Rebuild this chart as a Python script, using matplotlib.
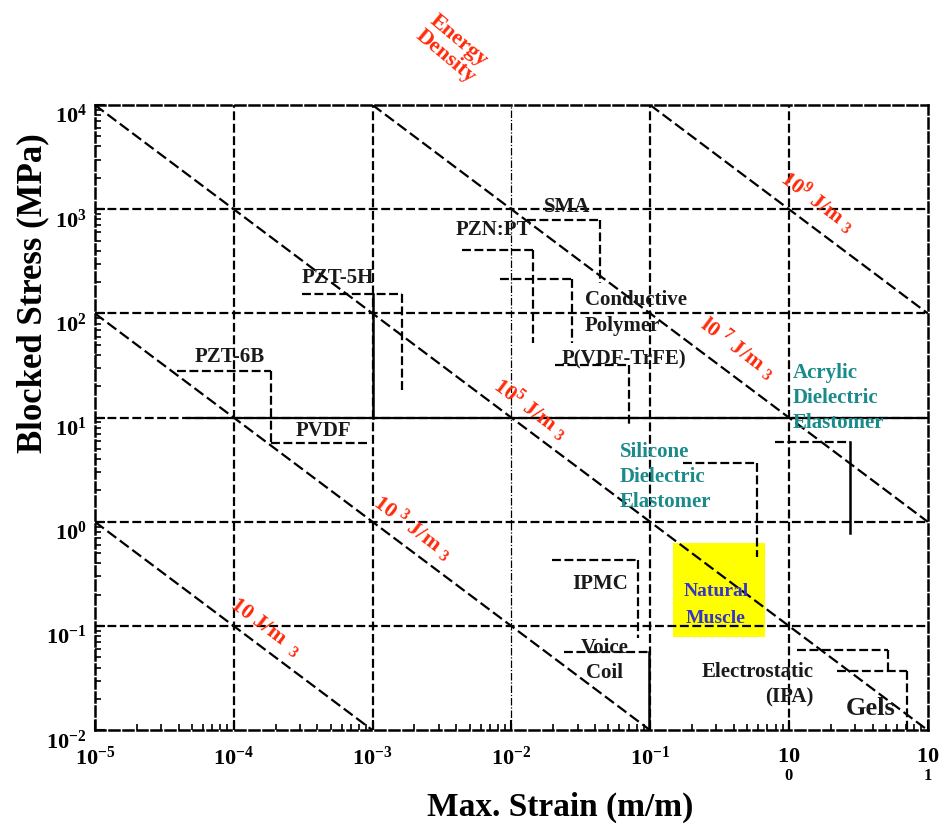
import numpy as np
import matplotlib
matplotlib.use('Agg')
import matplotlib.pyplot as plt

plt.rcParams['font.family'] = ['Liberation Serif', 'DejaVu Serif']
plt.rcParams['font.weight'] = 'bold'
plt.rcParams['mathtext.fontset'] = 'custom'
plt.rcParams['mathtext.rm'] = 'Liberation Serif:bold'
plt.rcParams['mathtext.it'] = 'Liberation Serif:bold:italic'
plt.rcParams['mathtext.bf'] = 'Liberation Serif:bold'
plt.rcParams['axes.unicode_minus'] = False

# energy density lines (J/m^3) and their labels
energy_density = [1e1, 1e3, 1e5, 1e7, 1e9]
energy_labels = [r'10 J/m  $_3$', r'10 $^3$ J/m $_3$', r'10$^5$ J/m $_3$',
                 r'l0 $^7$ J/m $_3$', r'10$^9$ J/m $_3$']
energy_label_x = [1.7e-4, 1.95e-3, 0.0138, 0.43, 1.62]
energy_label_y = [0.098, 0.89, 12.1, 46.6, 1170]

# actuator brackets: horizontal at stress_hi from strain_lo to strain_hi, then down to stress_lo
materials = ['PZT-6B', 'PVDF', 'PZT-5H', 'PZN:PT', 'SMA', 'Conductive Polymer',
             'P(VDF-TrFE)', 'Silicone', 'Acrylic', 'IPMC', 'Voice Coil',
             'Electrostatic (IPA)', 'Gels']
strain_lo = [3.9e-5, 1.85e-4, 3.1e-4, 4.4e-3, 0.0129, 8.3e-3, 0.0206, 0.172, 0.79,
             0.0196, 0.024, 1.14, 2.22]
strain_hi = [1.85e-4, 9.6e-4, 1.63e-3, 0.0143, 0.0435, 0.0273, 0.0703, 0.589, 2.75,
             0.0817, 0.098, 5.2, 7.08]
stress_hi = [28, 5.7, 153, 405, 787, 214, 32, 3.66, 5.84, 0.43, 0.056, 0.059, 0.037]
stress_lo = [5.7, 5.7, 18.4, 52, 196, 52, 8.5, 0.46, 0.78, 0.077, 0.01, 0.038, 0.01]
solid_drop = ['Acrylic', 'Voice Coil']

# extra solid segments
pzt_solid_strain = [1e-3, 1e-3]
pzt_solid_stress = [153, 10]
line10_strain = [4.6e-5, 10]
line10_stress = [10, 10]

# natural muscle box
muscle_strain = [0.146, 0.67]
muscle_stress = [0.078, 0.63]

# text labels
black_labels = ['PZT-6B', 'PVDF', 'PZT-5H', 'PZN:PT', 'SMA', 'P(VDF-TrFE)', 'IPMC',
                'Voice\nCoil']
black_x = [9.4e-5, 4.4e-4, 5.6e-4, 7.4e-3, 0.0251, 0.0647, 0.0434, 0.0472]
black_y = [38, 7.4, 219, 631, 1050, 36.5, 0.253, 0.047]

x_decades = [1e-5, 1e-4, 1e-3, 1e-2, 1e-1, 1e0, 1e1]
y_decades = [1e-2, 1e-1, 1e0, 1e1, 1e2, 1e3, 1e4]
x_ticklabels = [r'$10^{-5}$', r'$10^{-4}$', r'$10^{-3}$', r'$10^{-2}$', r'$10^{-1}$',
                r'$10$', r'$10$']
y_ticklabels = [r'$10^{-2}$', r'$10^{-1}$', r'$10^{0}$', r'$10^{1}$', r'$10^{2}$',
                r'$10^{3}$', r'$10^{4}$']

red = '#ff2a0a'
teal = '#1b8a8a'
dash = (0, (4, 1.6))

fig = plt.figure(figsize=(9.4, 8.27), dpi=100)
ax = fig.add_axes([0.101, 0.117, 0.886, 0.756])
ax.set_xscale('log')
ax.set_yscale('log')
ax.set_xlim(1e-5, 10)
ax.set_ylim(1e-2, 1e4)

# grid
for xv in x_decades[1:-1]:
    if xv == 1e-2:
        ax.axvline(xv, color='k', lw=0.9, ls=(0, (6, 1.5, 1, 1.5)), zorder=1)
    else:
        ax.axvline(xv, color='k', lw=1.6, ls=dash, zorder=1)
for yv in y_decades[1:-1]:
    ax.axhline(yv, color='k', lw=1.6, ls=dash, zorder=1)

for s in ax.spines.values():
    s.set_linestyle(dash)
    s.set_linewidth(1.8)

# natural muscle box
ax.fill([muscle_strain[0], muscle_strain[1], muscle_strain[1], muscle_strain[0]],
        [muscle_stress[0], muscle_stress[0], muscle_stress[1], muscle_stress[1]],
        color='#ffff00', zorder=0.5, lw=0)

# energy density lines
for ed in energy_density:
    e = ed / 1e6
    xs = np.array([max(1e-5, e / 1e4), min(10, e / 1e-2)])
    ax.plot(xs, e / xs, color='k', lw=1.6, ls=(0, (5, 2)), zorder=2)
for lab, lx, ly in zip(energy_labels, energy_label_x, energy_label_y):
    ax.text(lx, ly, lab, color=red, fontsize=16, fontweight='bold', rotation=-37,
            rotation_mode='anchor', ha='center', va='center', zorder=4)

# actuator brackets
for name, x0, x1, y0, y1 in zip(materials, strain_lo, strain_hi, stress_hi, stress_lo):
    ax.plot([x0, x1], [y0, y0], color='k', lw=1.6, ls=dash, zorder=3)
    if y1 != y0:
        if name in solid_drop:
            ax.plot([x1, x1], [y0, y1], color='k', lw=1.8, zorder=3)
        else:
            ax.plot([x1, x1], [y0, y1], color='k', lw=1.6, ls=dash, zorder=3)

ax.plot(pzt_solid_strain, pzt_solid_stress, color='k', lw=1.8, zorder=3)
ax.plot(line10_strain, line10_stress, color='k', lw=1.6, zorder=3)

# labels
for lab, lx, ly in zip(black_labels, black_x, black_y):
    ax.text(lx, ly, lab, fontsize=15, fontweight='bold', ha='center', va='center',
            color='#1a1a1a', linespacing=1.35, zorder=4)
ax.text(0.0339, 101, 'Conductive\nPolymer', fontsize=15, fontweight='bold',
        ha='left', va='center', color='#1a1a1a', linespacing=1.35, zorder=4)
ax.text(1.07, 15.4, 'Acrylic\nDielectric\nElastomer', fontsize=15, fontweight='bold',
        ha='left', va='center', color=teal, linespacing=1.35, zorder=4)
ax.text(0.0605, 2.69, 'Silicone\nDielectric\nElastomer', fontsize=15, fontweight='bold',
        ha='left', va='center', color=teal, linespacing=1.35, zorder=4)
ax.text(0.298, 0.159, 'Natural\nMuscle', fontsize=14, fontweight='bold',
        ha='center', va='center', color='#3535c8', linespacing=1.8, zorder=4)
ax.text(1.51, 0.0272, 'Electrostatic\n(IPA)', fontsize=15, fontweight='bold',
        ha='right', va='center', color='#1a1a1a', linespacing=1.35,
        multialignment='right', zorder=4)
ax.text(3.9, 0.0163, 'Gels', fontsize=19, fontweight='bold', ha='center',
        va='center', color='#1a1a1a', zorder=4)

ax.text(0.4286, 1.09, 'Energy\nDensity', transform=ax.transAxes, color=red,
        fontsize=16, fontweight='bold', rotation=-40, ha='center', va='center',
        linespacing=1.0, clip_on=False)

# ticks
ax.set_xticks(x_decades)
ax.set_xticklabels(x_ticklabels)
ax.set_yticks(y_decades)
ax.set_yticklabels(y_ticklabels)
for t in ax.get_yticklabels():
    t.set_va('top')
ax.tick_params(which='both', direction='in', top=False, right=False)
ax.tick_params(which='major', length=7, width=1.5, labelsize=16)
ax.tick_params(axis='x', which='major', pad=12)
ax.tick_params(axis='y', which='major', pad=6)
ax.tick_params(which='minor', length=4, width=1.2)

for xv, sub in zip(x_decades[-2:], ['0', '1']):
    ax.annotate(sub, xy=(xv, 0), xycoords=('data', 'axes fraction'),
                xytext=(0, -33), textcoords='offset points', ha='center',
                va='center', fontsize=12, fontweight='bold', annotation_clip=False)

fig.text(560 / 940, 1 - 807 / 827, 'Max. Strain (m/m)', fontsize=24,
         fontweight='bold', ha='center', va='center')
fig.text(33 / 940, 1 - 293 / 827, 'Blocked Stress (MPa)', fontsize=25,
         fontweight='bold', ha='center', va='center', rotation=90)

fig.savefig('out.png', dpi=100)
